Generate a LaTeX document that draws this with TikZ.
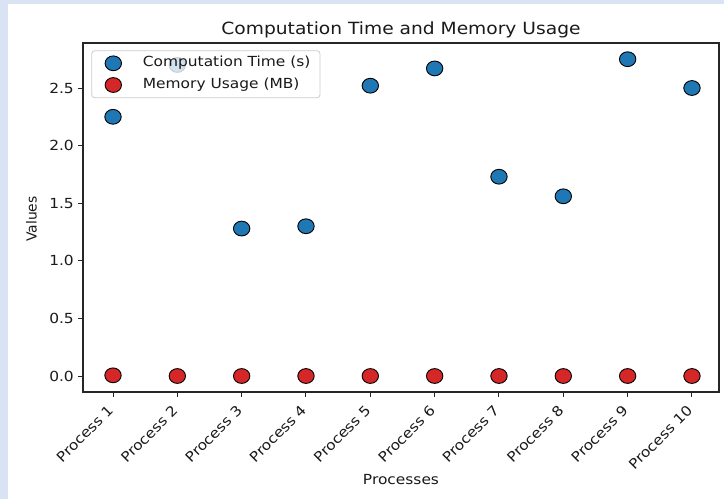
\documentclass[tikz,border=0pt]{standalone}
\usepackage{fontspec}
\setmainfont{DejaVu Sans}
\usetikzlibrary{shapes.geometric}
\newcommand{\hs}[1]{\scalebox{1.11}[1]{#1}}
\definecolor{bgblue}{HTML}{DAE3F3}
\definecolor{tabblue}{HTML}{1F77B4}
\definecolor{tabred}{HTML}{D62728}
\definecolor{txt}{HTML}{1A1A1A}
\begin{document}
\begin{tikzpicture}[x=1pt,y=-1pt,
  tl/.style={font=\fontsize{13.9}{16}\selectfont, text=txt, inner sep=0pt},
  ttl/.style={font=\fontsize{16.8}{19}\selectfont, text=txt, inner sep=0pt},
  bm/.style={ellipse, draw=black, line width=0.9pt, fill=tabblue, minimum width=16.4pt, minimum height=14.8pt, inner sep=0pt},
  rm/.style={ellipse, draw=black, line width=0.9pt, fill=tabred, minimum width=16.4pt, minimum height=14.8pt, inner sep=0pt},
  spine/.style={draw=black!85, line width=1.1pt},
  tick/.style={draw=black!85, line width=1pt}]
\useasboundingbox (0,0) rectangle (724,499);
\fill[bgblue] (0,0) rectangle (724,499);
\fill[white] (8,4) rectangle (724,499);
% axes
\coordinate (axNW) at (83,43);
\coordinate (axSE) at (719,392);
\draw[spine] (axNW) rectangle (axSE);
% y ticks
\foreach \v/\l/\n in {0/0.0/0,0.5/0.5/1,1/1.0/2,1.5/1.5/3,2/2.0/4,2.5/2.5/5}{
  \coordinate (yt\n) at (83,{376-115.2*\v});
  \draw[tick] (yt\n) -- ++(-5,0);
  \node[tl, anchor=east] (ylab\n) at ([xshift=-9pt]yt\n) {\hs{\l}};
}
% x ticks
\foreach \i in {1,...,10}{
  \coordinate (xt\i) at ({113+(\i-1)*64.33},392);
  \draw[tick] (xt\i) -- ++(0,5);
  \node[tl, anchor=north east, rotate=45] (xlab\i) at ({113+(\i-1)*64.33-6},404) {\hs{Process \i}};
}
% data
\foreach \i/\c/\m in {1/2.25/0.006,2/2.70/0,3/1.28/0,4/1.30/0,5/2.52/0,6/2.67/0,7/1.73/0,8/1.56/0,9/2.75/0,10/2.50/0}{
  \node[bm] (ct\i) at ({113+(\i-1)*64.33},{376-115.2*\c}) {};
  \node[rm] (mu\i) at ({113+(\i-1)*64.33},{376-115.2*\m}) {};
}
% legend
\draw[draw=black!20, fill=white, fill opacity=0.8, rounded corners=3pt, line width=0.8pt] (91.7,50.7) rectangle (320,97.7);
\node[bm] (legb) at (113.3,63.3) {};
\node[rm] (legr) at (113.3,85) {};
\node[tl, anchor=west] (legbt) at (142.7,63) {\hs{Computation Time (s)}};
\node[tl, anchor=west] (legrt) at (142.7,84.5) {\hs{Memory Usage (MB)}};
% labels
\node[ttl, anchor=base] (title) at (401,34.5) {\hs{Computation Time and Memory Usage}};
\node[tl, anchor=base] (xlabel) at (401,484.5) {\hs{Processes}};
\node[tl, rotate=90] (ylabel) at (31.5,219) {Values};
\end{tikzpicture}
\end{document}
